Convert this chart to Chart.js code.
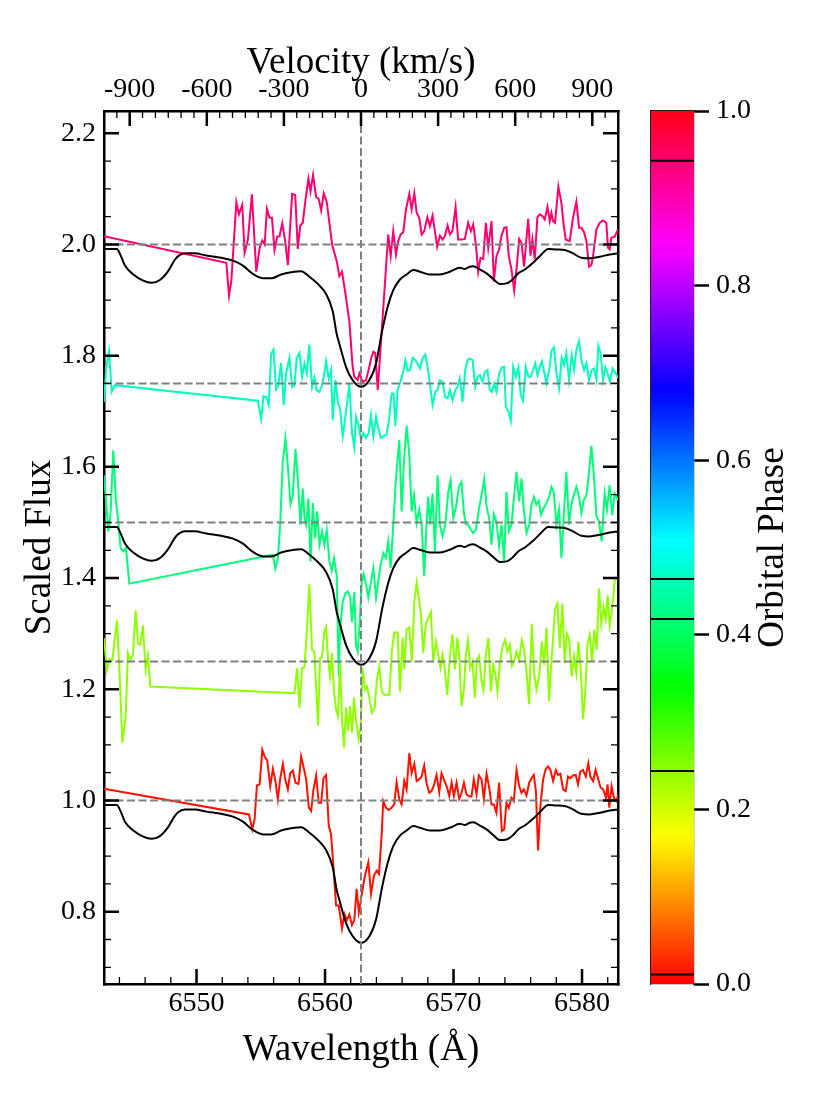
<!DOCTYPE html>
<html lang="en">
<head>
<meta charset="UTF-8" />
<title>H-alpha spectra by orbital phase</title>
<script src="https://cdn.jsdelivr.net/npm/chart.js@4"></script>
<style>
  body { margin: 0; background: #fff; }
  #wrap { position: relative; width: 830px; height: 1107px; }
  #wrap canvas { position: absolute; left: 0; top: 0; }
</style>
</head>
<body>
<div id="wrap">
  <canvas id="spectra" width="830" height="1107"></canvas>
  <canvas id="cbar" width="830" height="1107"></canvas>
</div>
<script>
// ---- data ----
const waveRange = [6542.8, 6582.8];
const fluxRange = [0.67, 2.24];
const velRange = [-1000, 1000];
const restWave = 6562.8;

const waveTicks = [6550, 6560, 6570, 6580];
const velTicks = [-900, -600, -300, 0, 300, 600, 900];
const fluxTicks = [0.8, 1.0, 1.2, 1.4, 1.6, 1.8, 2.0, 2.2];
const phaseTicks = [0, 0.2, 0.4, 0.6, 0.8, 1.0];

const refLevels = [1.0, 1.25, 1.5, 1.75, 2.0];
const phases = [0.011, 0.244, 0.418, 0.464, 0.943];

// model profile (drawn at 1.0, 1.5 and 2.0)
const modelShifts = [0, 0.5, 1.0];
const modelWave = [6542.8, 6543.8, 6544.1, 6544.43, 6545.08, 6545.85, 6546.5, 6547.15, 6547.79, 6548.3,
  6548.57, 6549.09, 6549.86, 6550.77, 6551.93, 6552.84, 6553.61, 6554.39, 6555.17, 6555.81,
  6556.59, 6557.37, 6558.14, 6558.79, 6559.44, 6560.08, 6560.6, 6560.9, 6561.12, 6561.63,
  6562.15, 6562.8, 6563.45, 6563.97, 6564.45, 6564.9, 6565.31, 6565.83, 6566.35, 6566.87,
  6567.39, 6568.16, 6568.94, 6569.72, 6570.49, 6570.88, 6571.25, 6571.53, 6572.05, 6572.57,
  6573.09, 6573.6, 6574.12, 6574.64, 6575.03, 6575.55, 6576.19, 6576.84, 6577.36, 6578.01,
  6578.65, 6579.3, 6579.95, 6580.6, 6581.38, 6582.15, 6582.8];
const modelFlux = [0.992, 0.992, 0.980, 0.962, 0.946, 0.935, 0.931, 0.936, 0.952, 0.972,
  0.979, 0.984, 0.984, 0.980, 0.976, 0.971, 0.962, 0.947, 0.939, 0.939,
  0.946, 0.950, 0.952, 0.942, 0.929, 0.911, 0.880, 0.840, 0.821, 0.780,
  0.756, 0.744, 0.756, 0.786, 0.845, 0.890, 0.918, 0.937, 0.946, 0.954,
  0.951, 0.946, 0.946, 0.951, 0.958, 0.956, 0.960, 0.961, 0.955, 0.948,
  0.938, 0.929, 0.930, 0.938, 0.948, 0.955, 0.967, 0.982, 0.992, 0.991,
  0.990, 0.984, 0.976, 0.975, 0.978, 0.982, 0.984];

// phase 0.011 (offset 1.0)
const redWave = [6542.80, 6554.08, 6554.34, 6554.52, 6554.70, 6554.91, 6555.12, 6555.30, 6555.50, 6555.74,
  6555.94, 6556.12, 6556.33, 6556.51, 6556.72, 6556.90, 6557.11, 6557.29, 6557.50, 6557.70,
  6557.94, 6558.14, 6558.32, 6558.53, 6558.74, 6558.92, 6559.10, 6559.31, 6559.51, 6559.70,
  6559.88, 6560.08, 6560.29, 6560.47, 6560.65, 6560.86, 6561.07, 6561.32, 6561.51, 6561.69,
  6561.89, 6562.10, 6562.28, 6562.46, 6562.63, 6562.93, 6563.11, 6563.37, 6563.58, 6563.81,
  6564.02, 6564.20, 6564.41, 6564.53, 6564.74, 6564.95, 6565.18, 6565.39, 6565.57, 6565.78,
  6565.96, 6566.17, 6566.35, 6566.56, 6566.74, 6566.95, 6567.13, 6567.33, 6567.52, 6567.72,
  6567.90, 6568.11, 6568.29, 6568.47, 6568.68, 6568.89, 6569.07, 6569.25, 6569.46, 6569.67,
  6569.85, 6570.03, 6570.24, 6570.44, 6570.62, 6570.81, 6571.01, 6571.19, 6571.40, 6571.58,
  6571.79, 6571.97, 6572.18, 6572.36, 6572.57, 6572.77, 6572.96, 6573.14, 6573.34, 6573.55,
  6573.76, 6573.94, 6574.12, 6574.30, 6574.51, 6574.69, 6574.90, 6575.11, 6575.29, 6575.47,
  6575.68, 6575.89, 6576.07, 6576.25, 6576.41, 6576.58, 6576.76, 6576.97, 6577.18, 6577.36,
  6577.54, 6577.75, 6577.96, 6578.14, 6578.32, 6578.53, 6578.73, 6578.91, 6579.09, 6579.30,
  6579.51, 6579.69, 6579.87, 6580.08, 6580.29, 6580.49, 6580.65, 6580.86, 6581.06, 6581.24,
  6581.45, 6581.65, 6581.86, 6581.99, 6582.12, 6582.30, 6582.48, 6582.69, 6582.80];
const redFlux = [1.021, 0.975, 0.948, 0.966, 1.027, 1.029, 1.091, 1.079, 1.072, 1.026,
  1.057, 1.038, 1.002, 1.039, 1.066, 1.038, 1.020, 1.049, 1.054, 1.032,
  1.030, 1.079, 1.061, 1.039, 0.987, 0.981, 1.020, 1.045, 0.996, 0.996,
  1.040, 1.046, 0.955, 0.939, 0.883, 0.811, 0.811, 0.770, 0.796, 0.785,
  0.795, 0.776, 0.785, 0.841, 0.799, 0.841, 0.865, 0.889, 0.832, 0.865,
  0.874, 0.868, 0.939, 0.999, 0.987, 0.983, 0.987, 0.993, 1.033, 1.002,
  0.993, 1.035, 1.020, 1.085, 1.049, 1.066, 1.035, 1.038, 1.043, 1.063,
  1.032, 1.014, 1.017, 1.027, 1.046, 1.015, 1.049, 1.038, 1.026, 1.008,
  1.032, 1.008, 1.032, 1.003, 1.013, 1.032, 1.011, 1.008, 1.007, 1.038,
  1.011, 1.045, 1.038, 1.003, 1.048, 1.024, 0.993, 0.993, 0.978, 1.032,
  0.945, 0.948, 0.996, 0.987, 1.005, 0.999, 1.055, 1.026, 1.014, 1.020,
  1.009, 1.032, 1.040, 1.046, 1.017, 0.910, 0.990, 1.038, 1.057, 1.061,
  1.055, 1.035, 1.055, 1.046, 1.048, 1.020, 1.017, 1.043, 1.040, 1.045,
  1.046, 1.029, 1.052, 1.055, 1.043, 1.067, 1.043, 1.035, 1.055, 1.040,
  1.023, 1.020, 1.005, 1.029, 0.987, 1.026, 1.005, 0.999, 1.010];

// phase 0.244 (offset 1.25)
const yellowWave = [6542.80, 6543.03, 6543.24, 6543.45, 6543.81, 6544.02, 6544.23, 6544.49, 6544.66, 6544.85,
  6545.05, 6545.26, 6545.44, 6545.62, 6545.83, 6546.04, 6546.22, 6546.40, 6557.62, 6557.83,
  6558.01, 6558.21, 6558.40, 6558.58, 6558.78, 6558.99, 6559.17, 6559.46, 6559.61, 6559.77,
  6559.95, 6560.08, 6560.24, 6560.39, 6560.55, 6560.68, 6560.86, 6561.01, 6561.17, 6561.32,
  6561.48, 6561.63, 6561.79, 6561.95, 6562.10, 6562.26, 6562.41, 6562.62, 6562.77, 6562.93,
  6563.11, 6563.27, 6563.45, 6563.65, 6563.86, 6564.04, 6564.22, 6564.43, 6564.61, 6565.00,
  6565.21, 6565.39, 6565.65, 6565.83, 6566.04, 6566.17, 6566.35, 6566.56, 6566.76, 6566.95,
  6567.13, 6567.28, 6567.46, 6567.64, 6567.85, 6568.06, 6568.24, 6568.42, 6568.63, 6568.81,
  6568.99, 6569.15, 6569.33, 6569.51, 6569.72, 6569.92, 6570.11, 6570.29, 6570.44, 6570.62,
  6570.81, 6570.96, 6571.12, 6571.30, 6571.48, 6571.66, 6571.82, 6572.00, 6572.18, 6572.33,
  6572.52, 6572.72, 6572.90, 6573.09, 6573.27, 6573.42, 6573.60, 6573.81, 6574.02, 6574.20,
  6574.38, 6574.54, 6574.72, 6574.90, 6575.11, 6575.31, 6575.49, 6575.67, 6575.88, 6576.09,
  6576.27, 6576.45, 6576.66, 6576.87, 6577.05, 6577.23, 6577.44, 6577.59, 6577.75, 6577.91,
  6578.09, 6578.27, 6578.47, 6578.65, 6578.81, 6578.99, 6579.20, 6579.38, 6579.56, 6579.72,
  6579.90, 6580.08, 6580.24, 6580.42, 6580.60, 6580.78, 6580.96, 6581.14, 6581.32, 6581.50,
  6581.68, 6581.84, 6581.99, 6582.15, 6582.35, 6582.54, 6582.80];
const yellowFlux = [1.292, 1.235, 1.254, 1.253, 1.324, 1.223, 1.104, 1.152, 1.265, 1.253,
  1.262, 1.342, 1.283, 1.280, 1.315, 1.235, 1.260, 1.205, 1.193, 1.238,
  1.167, 1.238, 1.240, 1.301, 1.389, 1.271, 1.268, 1.135, 1.256, 1.258,
  1.304, 1.312, 1.253, 1.223, 1.265, 1.199, 1.164, 1.152, 1.247, 1.146,
  1.095, 1.167, 1.125, 1.170, 1.122, 1.185, 1.146, 1.110, 1.134, 1.238,
  1.199, 1.205, 1.185, 1.158, 1.167, 1.217, 1.241, 1.195, 1.190, 1.190,
  1.271, 1.302, 1.302, 1.196, 1.293, 1.236, 1.308, 1.311, 1.250, 1.359,
  1.392, 1.366, 1.336, 1.266, 1.318, 1.329, 1.339, 1.250, 1.286, 1.262,
  1.238, 1.262, 1.235, 1.190, 1.260, 1.299, 1.236, 1.292, 1.262, 1.170,
  1.199, 1.262, 1.288, 1.238, 1.250, 1.185, 1.253, 1.260, 1.214, 1.199,
  1.262, 1.292, 1.196, 1.244, 1.226, 1.196, 1.244, 1.277, 1.289, 1.268,
  1.280, 1.242, 1.250, 1.268, 1.253, 1.288, 1.271, 1.235, 1.173, 1.318,
  1.229, 1.199, 1.223, 1.286, 1.244, 1.311, 1.179, 1.241, 1.292, 1.345,
  1.354, 1.274, 1.354, 1.247, 1.301, 1.292, 1.223, 1.259, 1.229, 1.286,
  1.235, 1.146, 1.190, 1.280, 1.298, 1.250, 1.307, 1.271, 1.381, 1.318,
  1.348, 1.327, 1.369, 1.315, 1.345, 1.396, 1.400];

// phase 0.418 (offset 1.5)
const greenWave = [6542.80, 6543.14, 6543.32, 6543.52, 6543.73, 6543.91, 6544.09, 6544.30, 6544.51, 6544.77,
  6555.94, 6556.14, 6556.33, 6556.51, 6556.71, 6556.92, 6557.10, 6557.31, 6557.49, 6557.70,
  6557.88, 6558.09, 6558.27, 6558.40, 6558.53, 6558.71, 6558.87, 6559.05, 6559.23, 6559.39,
  6559.57, 6559.77, 6559.95, 6560.13, 6560.34, 6560.52, 6560.70, 6560.91, 6561.07, 6561.17,
  6561.36, 6561.58, 6561.76, 6561.95, 6562.10, 6562.28, 6562.41, 6562.54, 6562.67, 6562.85,
  6563.00, 6563.19, 6563.37, 6563.76, 6563.97, 6564.15, 6564.33, 6564.54, 6564.74, 6564.92,
  6565.11, 6565.31, 6565.52, 6565.78, 6565.96, 6566.14, 6566.35, 6566.56, 6566.74, 6566.92,
  6567.13, 6567.33, 6567.52, 6567.72, 6567.90, 6568.03, 6568.18, 6568.37, 6568.55, 6568.76,
  6568.94, 6569.15, 6569.36, 6569.59, 6569.77, 6569.98, 6570.18, 6570.42, 6570.62, 6570.81,
  6570.96, 6571.14, 6571.35, 6571.53, 6571.74, 6571.97, 6572.18, 6572.39, 6572.57, 6572.77,
  6572.96, 6573.14, 6573.34, 6573.55, 6573.73, 6573.94, 6574.12, 6574.30, 6574.51, 6574.72,
  6574.90, 6575.11, 6575.29, 6575.47, 6575.68, 6575.89, 6576.07, 6576.25, 6576.45, 6576.63,
  6576.81, 6577.02, 6577.23, 6577.44, 6577.62, 6577.80, 6578.01, 6578.21, 6578.40, 6578.58,
  6578.78, 6578.99, 6579.17, 6579.35, 6579.56, 6579.77, 6579.95, 6580.13, 6580.34, 6580.55,
  6580.73, 6580.91, 6581.12, 6581.32, 6581.53, 6581.76, 6581.94, 6582.15, 6582.35, 6582.54,
  6582.80];
const greenFlux = [1.585, 1.484, 1.520, 1.630, 1.538, 1.502, 1.454, 1.448, 1.454, 1.390,
  1.442, 1.417, 1.436, 1.496, 1.609, 1.651, 1.603, 1.533, 1.549, 1.632,
  1.579, 1.496, 1.561, 1.508, 1.496, 1.543, 1.430, 1.535, 1.472, 1.520,
  1.460, 1.484, 1.460, 1.487, 1.430, 1.413, 1.436, 1.404, 1.223, 1.307,
  1.356, 1.372, 1.376, 1.367, 1.321, 1.375, 1.280, 1.268, 1.307, 1.390,
  1.407, 1.389, 1.365, 1.418, 1.365, 1.395, 1.424, 1.445, 1.436, 1.466,
  1.418, 1.496, 1.579, 1.648, 1.520, 1.609, 1.674, 1.621, 1.520, 1.549,
  1.499, 1.523, 1.496, 1.404, 1.496, 1.546, 1.496, 1.552, 1.448, 1.585,
  1.496, 1.475, 1.496, 1.555, 1.576, 1.508, 1.526, 1.564, 1.573, 1.517,
  1.497, 1.496, 1.487, 1.481, 1.487, 1.523, 1.549, 1.578, 1.529, 1.508,
  1.460, 1.515, 1.502, 1.457, 1.496, 1.430, 1.555, 1.484, 1.496, 1.549,
  1.591, 1.538, 1.579, 1.523, 1.481, 1.496, 1.532, 1.546, 1.532, 1.539,
  1.514, 1.526, 1.535, 1.546, 1.564, 1.555, 1.496, 1.523, 1.436, 1.513,
  1.591, 1.496, 1.532, 1.549, 1.564, 1.546, 1.517, 1.540, 1.549, 1.591,
  1.638, 1.588, 1.511, 1.502, 1.466, 1.552, 1.523, 1.567, 1.513, 1.552,
  1.540];

// phase 0.464 (offset 1.75)
const aquaWave = [6542.80, 6542.98, 6543.19, 6543.40, 6543.63, 6554.77, 6555.03, 6555.21, 6555.42, 6555.62,
  6555.81, 6555.99, 6556.19, 6556.37, 6556.58, 6556.79, 6556.97, 6557.23, 6557.44, 6557.62,
  6557.80, 6558.01, 6558.21, 6558.40, 6558.58, 6558.78, 6558.99, 6559.17, 6559.35, 6559.56,
  6559.77, 6559.95, 6560.08, 6560.29, 6560.47, 6560.60, 6560.81, 6560.99, 6561.17, 6561.38,
  6561.58, 6561.76, 6561.89, 6562.10, 6562.28, 6562.41, 6562.62, 6562.80, 6562.98, 6563.19,
  6563.40, 6563.58, 6563.76, 6563.97, 6564.17, 6564.35, 6564.61, 6564.79, 6565.00, 6565.18,
  6565.34, 6565.47, 6565.65, 6565.86, 6566.09, 6566.25, 6566.43, 6566.61, 6566.82, 6567.02,
  6567.20, 6567.39, 6567.59, 6567.80, 6567.98, 6568.16, 6568.37, 6568.58, 6568.76, 6568.94,
  6569.15, 6569.35, 6569.54, 6569.72, 6569.92, 6570.13, 6570.31, 6570.49, 6570.70, 6570.91,
  6571.09, 6571.27, 6571.48, 6571.69, 6571.87, 6572.05, 6572.26, 6572.46, 6572.64, 6572.82,
  6572.98, 6573.16, 6573.34, 6573.55, 6573.76, 6573.94, 6574.07, 6574.28, 6574.46, 6574.64,
  6574.85, 6575.05, 6575.23, 6575.42, 6575.62, 6575.83, 6576.01, 6576.19, 6576.35, 6576.53,
  6576.71, 6576.87, 6577.05, 6577.23, 6577.44, 6577.64, 6577.82, 6578.01, 6578.21, 6578.42,
  6578.60, 6578.78, 6578.99, 6579.20, 6579.38, 6579.56, 6579.77, 6579.95, 6580.16, 6580.34,
  6580.55, 6580.75, 6580.94, 6581.12, 6581.27, 6581.45, 6581.63, 6581.81, 6581.99, 6582.17,
  6582.38, 6582.56, 6582.80];
const aquaFlux = [1.717, 1.780, 1.808, 1.735, 1.747, 1.719, 1.686, 1.727, 1.726, 1.711,
  1.804, 1.811, 1.739, 1.747, 1.787, 1.711, 1.768, 1.796, 1.744, 1.747,
  1.796, 1.805, 1.762, 1.786, 1.768, 1.820, 1.744, 1.761, 1.738, 1.735,
  1.747, 1.768, 1.790, 1.759, 1.774, 1.685, 1.756, 1.717, 1.705, 1.655,
  1.690, 1.723, 1.750, 1.661, 1.636, 1.690, 1.673, 1.649, 1.661, 1.652,
  1.661, 1.693, 1.655, 1.690, 1.667, 1.652, 1.656, 1.658, 1.688, 1.732,
  1.732, 1.673, 1.738, 1.753, 1.771, 1.792, 1.773, 1.774, 1.796, 1.792,
  1.786, 1.777, 1.795, 1.802, 1.780, 1.750, 1.711, 1.735, 1.738, 1.756,
  1.753, 1.726, 1.723, 1.738, 1.720, 1.738, 1.744, 1.759, 1.717, 1.774,
  1.792, 1.795, 1.792, 1.744, 1.762, 1.765, 1.753, 1.771, 1.774, 1.738,
  1.735, 1.750, 1.735, 1.768, 1.779, 1.780, 1.708, 1.699, 1.683, 1.780,
  1.762, 1.779, 1.729, 1.719, 1.780, 1.762, 1.762, 1.774, 1.786, 1.765,
  1.780, 1.790, 1.771, 1.750, 1.774, 1.810, 1.815, 1.768, 1.741, 1.796,
  1.783, 1.805, 1.756, 1.801, 1.775, 1.810, 1.826, 1.792, 1.774, 1.786,
  1.756, 1.774, 1.777, 1.757, 1.818, 1.804, 1.756, 1.779, 1.768, 1.753,
  1.777, 1.771, 1.760];

// phase 0.943 (offset 2.0)
const pinkWave = [6542.80, 6552.32, 6552.53, 6552.71, 6553.10, 6553.30, 6553.56, 6553.74, 6554.00, 6554.31,
  6554.65, 6554.91, 6555.12, 6555.30, 6555.48, 6555.68, 6555.87, 6556.07, 6556.28, 6556.46,
  6556.67, 6556.90, 6557.11, 6557.44, 6557.68, 6557.88, 6558.07, 6558.27, 6558.48, 6558.71,
  6558.87, 6559.07, 6559.31, 6559.51, 6559.70, 6559.90, 6560.13, 6560.34, 6560.55, 6560.91,
  6561.12, 6561.32, 6561.60, 6561.90, 6562.15, 6562.28, 6562.54, 6562.67, 6562.93, 6563.19,
  6563.45, 6563.58, 6563.76, 6563.91, 6564.10, 6564.92, 6565.11, 6565.31, 6565.52, 6565.70,
  6565.88, 6566.09, 6566.30, 6566.56, 6566.74, 6566.95, 6567.13, 6567.33, 6567.52, 6567.72,
  6567.96, 6568.16, 6568.37, 6568.55, 6568.73, 6568.94, 6569.15, 6569.33, 6569.54, 6569.72,
  6569.92, 6570.16, 6570.36, 6570.62, 6570.88, 6571.14, 6571.35, 6571.53, 6571.74, 6571.92,
  6572.10, 6572.31, 6572.52, 6572.70, 6572.96, 6573.14, 6573.34, 6573.55, 6573.73, 6573.94,
  6574.12, 6574.30, 6574.51, 6574.72, 6574.90, 6575.11, 6575.29, 6575.49, 6575.68, 6575.81,
  6575.99, 6576.14, 6576.32, 6576.53, 6576.71, 6576.92, 6577.10, 6577.31, 6577.49, 6577.62,
  6577.75, 6577.90, 6578.16, 6578.40, 6578.58, 6578.73, 6579.04, 6579.30, 6579.56, 6579.77,
  6579.95, 6580.16, 6580.34, 6580.55, 6580.73, 6580.86, 6581.12, 6581.38, 6581.63, 6581.89,
  6582.02, 6582.15, 6582.28, 6582.54, 6582.80];
const pinkFlux = [2.015, 1.967, 1.908, 1.935, 2.076, 2.054, 2.071, 1.985, 2.009, 2.090,
  1.951, 1.994, 2.007, 2.000, 2.064, 2.048, 2.048, 1.990, 2.014, 2.015,
  2.038, 2.006, 1.963, 2.091, 2.089, 1.992, 2.034, 2.039, 2.080, 2.118,
  2.095, 2.125, 2.085, 2.082, 2.061, 2.092, 2.077, 2.039, 2.000, 1.970,
  1.943, 1.951, 1.910, 1.860, 1.780, 1.762, 1.756, 1.768, 1.753, 1.756,
  1.780, 1.795, 1.807, 1.805, 1.738, 2.018, 1.979, 2.024, 1.982, 2.006,
  2.018, 2.022, 2.063, 2.091, 2.063, 2.092, 2.057, 2.048, 2.018, 2.024,
  2.049, 2.033, 2.052, 2.024, 1.996, 2.016, 2.009, 2.015, 2.034, 2.018,
  2.024, 2.067, 2.009, 2.009, 2.010, 2.039, 2.024, 2.036, 2.000, 1.951,
  1.976, 1.974, 2.039, 1.994, 2.042, 1.933, 1.979, 1.991, 2.015, 2.030,
  2.031, 1.979, 1.955, 1.917, 1.955, 2.010, 2.003, 1.960, 2.012, 2.046,
  1.980, 2.009, 1.974, 2.049, 2.054, 2.051, 2.045, 2.068, 2.042, 2.057,
  2.042, 2.039, 2.104, 2.074, 2.033, 2.009, 2.006, 2.048, 2.077, 2.030,
  2.030, 2.022, 2.006, 1.960, 1.963, 1.979, 2.027, 2.039, 2.043, 2.039,
  1.994, 1.991, 2.012, 2.014, 2.027];

const spectraWave = [redWave, yellowWave, greenWave, aquaWave, pinkWave];
const spectraFlux = [redFlux, yellowFlux, greenFlux, aquaFlux, pinkFlux];

// ---- look ----
const FONT = "'Liberation Serif', 'Times New Roman', serif";
Chart.defaults.font.family = FONT;
Chart.defaults.color = '#000';
const FRAME = { left: 104, right: 618, top: 111, bottom: 984 };
const BAR = { left: 651, right: 694 };

// matplotlib "hsv" colormap segments
const HSV = {
  r: [[0, 1], [0.15873, 1], [0.174603, 0.96875], [0.333333, 0.03125], [0.349206, 0], [0.666667, 0], [0.68254, 0.03125], [0.84127, 0.96875], [0.857143, 1], [1, 1]],
  g: [[0, 0], [0.15873, 0.9375], [0.174603, 1], [0.507937, 1], [0.666667, 0.0625], [0.68254, 0], [1, 0]],
  b: [[0, 0], [0.333333, 0], [0.349206, 0.0625], [0.507937, 1], [0.84127, 1], [0.857143, 0.9375], [1, 0.09375]]
};
function chan(seg, t) {
  for (let i = 1; i < seg.length; i++) {
    if (t <= seg[i][0]) {
      const [x0, y0] = seg[i - 1], [x1, y1] = seg[i];
      return y0 + (y1 - y0) * (t - x0) / (x1 - x0);
    }
  }
  return seg[seg.length - 1][1];
}
function hsvColor(t) {
  const c = k => Math.round(255 * chan(HSV[k], t));
  return `rgb(${c('r')},${c('g')},${c('b')})`;
}

const xy = (w, f, shift = 0) => w.map((x, i) => ({ x, y: f[i] + shift }));
const fixSize = (prop, val) => s => {
  s[prop] = val;
  s.paddingLeft = s.paddingRight = s.paddingTop = s.paddingBottom = 0;
};
const setTicks = list => s => { s.ticks = list.map(v => ({ value: v })); };

const dash = { borderColor: '#808080', borderWidth: 2, borderDash: [8, 3.5], pointRadius: 0 };

const datasets = [];
refLevels.forEach(level => {
  datasets.push({ ...dash, data: [{ x: waveRange[0], y: level }, { x: waveRange[1], y: level }] });
});
datasets.push({ ...dash, data: [{ x: restWave, y: fluxRange[0] }, { x: restWave, y: fluxRange[1] }] });
modelShifts.forEach(s => {
  datasets.push({ data: xy(modelWave, modelFlux, s), borderColor: '#000', borderWidth: 2,
    pointRadius: 0, cubicInterpolationMode: 'monotone' });
});
phases.forEach((p, i) => {
  datasets.push({ data: xy(spectraWave[i], spectraFlux[i]), borderColor: hsvColor(p),
    borderWidth: 2, pointRadius: 0 });
});

// inward major/minor tick marks on all four sides
function range(a, b, step) {
  const out = [];
  for (let v = a; v <= b + step / 1000; v += step) out.push(Math.round(v * 1000) / 1000);
  return out;
}
const inwardTicks = {
  id: 'inwardTicks',
  afterDraw(chart) {
    const { ctx, chartArea: a, scales } = chart;
    const sides = [
      [scales.x, waveTicks, range(6544, 6582, 2)],
      [scales.x2, velTicks, range(-1000, 1000, 50)],
      [scales.y, fluxTicks, range(0.7, 2.2, 0.05)],
      [scales.y2, fluxTicks, range(0.7, 2.2, 0.05)]
    ];
    ctx.save();
    ctx.strokeStyle = '#000';
    sides.forEach(([scale, major, minor]) => {
      [[minor, 7, 1.3], [major, 15, 2.5]].forEach(([vals, len, lw]) => {
        ctx.lineWidth = lw;
        ctx.beginPath();
        vals.forEach(v => {
          const p = scale.getPixelForValue(v);
          if (scale.position === 'bottom') { ctx.moveTo(p, a.bottom); ctx.lineTo(p, a.bottom - len); }
          else if (scale.position === 'top') { ctx.moveTo(p, a.top); ctx.lineTo(p, a.top + len); }
          else if (scale.position === 'left') { ctx.moveTo(a.left, p); ctx.lineTo(a.left + len, p); }
          else { ctx.moveTo(a.right, p); ctx.lineTo(a.right - len, p); }
        });
        ctx.stroke();
      });
    });
    ctx.restore();
  }
};

const frameBorder = { color: '#000', width: 2.5 };
const noGrid = { display: false, drawTicks: false, lineWidth: 2.5 };
new Chart(document.getElementById('spectra'), {
  type: 'line',
  data: { datasets },
  options: {
    responsive: false,
    animation: false,
    events: [],
    plugins: { legend: { display: false }, tooltip: { enabled: false } },
    scales: {
      x: {
        type: 'linear', position: 'bottom', min: waveRange[0], max: waveRange[1],
        grid: noGrid, border: frameBorder,
        ticks: { font: { size: 28 }, padding: 3, maxRotation: 0, autoSkip: false, callback: v => String(v) },
        title: { display: true, text: 'Wavelength (Å)', font: { size: 37 }, padding: { top: 0, bottom: 35 } },
        afterBuildTicks: setTicks(waveTicks),
        afterFit: fixSize('height', 1107 - FRAME.bottom)
      },
      x2: {
        type: 'linear', position: 'top', min: velRange[0], max: velRange[1],
        grid: noGrid, border: frameBorder,
        ticks: { font: { size: 28 }, padding: 5, maxRotation: 0, autoSkip: false, callback: v => String(v) },
        title: { display: true, text: 'Velocity (km/s)', font: { size: 37 }, padding: { top: 41, bottom: 0 } },
        afterBuildTicks: setTicks(velTicks),
        afterFit: fixSize('height', FRAME.top)
      },
      y: {
        type: 'linear', position: 'left', min: fluxRange[0], max: fluxRange[1],
        grid: noGrid, border: frameBorder,
        ticks: { font: { size: 28 }, padding: 8, autoSkip: false, callback: v => v.toFixed(1) },
        title: { display: true, text: 'Scaled Flux', font: { size: 37 }, padding: { top: 18, bottom: 0 } },
        afterBuildTicks: setTicks(fluxTicks),
        afterFit: fixSize('width', FRAME.left)
      },
      y2: {
        type: 'linear', position: 'right', min: fluxRange[0], max: fluxRange[1],
        grid: noGrid, border: frameBorder,
        ticks: { display: false },
        afterFit: fixSize('width', 830 - FRAME.right)
      }
    }
  },
  plugins: [inwardTicks]
});

// ---- colour bar ----
const cbarTitle = {
  id: 'cbarTitle',
  afterDraw(chart) {
    const { ctx, chartArea: a } = chart;
    ctx.save();
    ctx.translate(773, (a.top + a.bottom) / 2);
    ctx.rotate(-Math.PI / 2);
    ctx.font = `37px ${FONT}`;
    ctx.fillStyle = '#000';
    ctx.textAlign = 'center';
    ctx.textBaseline = 'middle';
    ctx.fillText('Orbital Phase', 0, 0);
    ctx.restore();
  }
};

function barGradient(context) {
  const { chart } = context;
  const a = chart.chartArea;
  if (!a) return null;
  const g = chart.ctx.createLinearGradient(0, a.bottom, 0, a.top);
  for (let i = 0; i <= 128; i++) g.addColorStop(i / 128, hsvColor(i / 128));
  return g;
}

const cbarSets = phases.map(p => ({
  data: [{ x: 0, y: p }, { x: 1, y: p }], borderColor: '#000', borderWidth: 2, pointRadius: 0,
  xAxisID: 'cx', yAxisID: 'cy'
}));
cbarSets.push({
  data: [{ x: 0, y: 1 }, { x: 1, y: 1 }], borderWidth: 0, pointRadius: 0, fill: 'origin',
  backgroundColor: barGradient, xAxisID: 'cx', yAxisID: 'cy'
});

const thin = { color: '#222', width: 1.2 };
new Chart(document.getElementById('cbar'), {
  type: 'line',
  data: { datasets: cbarSets },
  options: {
    responsive: false,
    animation: false,
    events: [],
    plugins: { legend: { display: false }, tooltip: { enabled: false } },
    scales: {
      cx: {
        type: 'linear', position: 'bottom', min: 0, max: 1,
        grid: { display: false, drawTicks: false }, border: thin, ticks: { display: false },
        afterFit: fixSize('height', 1107 - FRAME.bottom)
      },
      cxt: {
        type: 'linear', position: 'top', min: 0, max: 1,
        grid: { display: false, drawTicks: false }, border: thin, ticks: { display: false },
        afterFit: fixSize('height', FRAME.top)
      },
      cyl: {
        type: 'linear', position: 'left', min: 0, max: 1,
        grid: { display: false, drawTicks: false }, border: thin, ticks: { display: false },
        afterFit: fixSize('width', BAR.left)
      },
      cy: {
        type: 'linear', position: 'right', min: 0, max: 1,
        grid: { display: true, drawOnChartArea: false, drawTicks: true, tickLength: 15, tickWidth: 2.5, tickColor: '#000' },
        border: thin,
        ticks: { font: { size: 28 }, padding: 7, autoSkip: false, callback: v => v.toFixed(1) },
        afterBuildTicks: setTicks(phaseTicks),
        afterFit: fixSize('width', 830 - BAR.right)
      }
    }
  },
  plugins: [cbarTitle]
});
</script>
</body>
</html>
